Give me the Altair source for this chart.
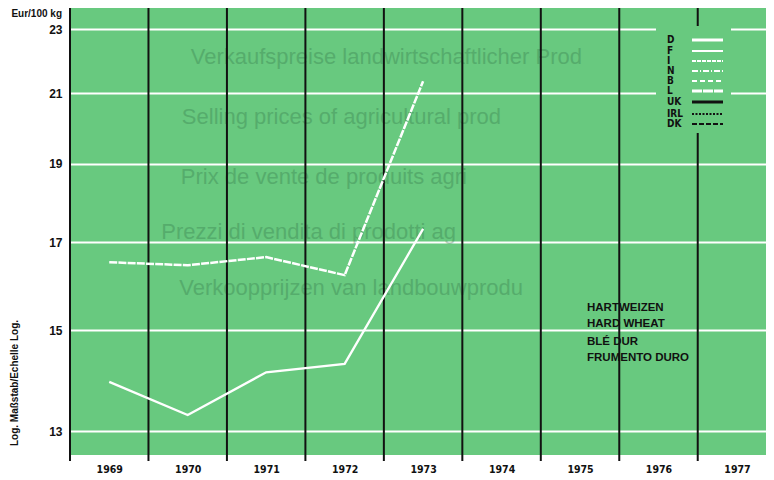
import altair as alt
import pandas as pd

# ---- data ----
years = [1969, 1970, 1971, 1972, 1973]
italy = [16.52, 16.45, 16.64, 16.22, 21.36]      # upper, finely dashed white line
france = [13.94, 13.30, 14.13, 14.30, 17.32]     # lower, solid white line
year_ticks = [1969, 1970, 1971, 1972, 1973, 1974, 1975, 1976, 1977]
boundaries = [1968.5, 1969.5, 1970.5, 1971.5, 1972.5, 1973.5, 1974.5, 1975.5, 1976.5]
y_ticks = [13, 15, 17, 19, 21, 23]
legend_labels = ["D", "F", "I", "N", "B", "L", "UK", "IRL", "DK"]
product_labels = ["HARTWEIZEN", "HARD WHEAT", "BLÉ DUR", "FRUMENTO DURO"]
ghost_lines = [
    "Verkaufspreise landwirtschaftlicher Prod",
    "Selling prices of agricultural prod",
    "Prix de vente de produits agri",
    "Prezzi di vendita di prodotti ag",
    "Verkoopprijzen van landbouwprodu",
]

GREEN = "#68c97f"
BOLD_FONT = "'Liberation Sans Narrow', 'DejaVu Sans Condensed', 'Liberation Sans', Arial"
W, H = 696, 447

xscale = alt.Scale(domain=[1968.5, 1977.37], nice=False, zero=False)
yscale = alt.Scale(type="log", domain=[12.565, 23.70], nice=False)

X = alt.X("year:Q", scale=xscale,
          axis=alt.Axis(values=year_ticks, format="d", title=None, grid=False, ticks=False,
                        domain=False, labelFont=BOLD_FONT, labelFontWeight="bold",
                        labelFontSize=10.5, labelColor="#111", labelPadding=9))
Y = alt.Y("value:Q", scale=yscale,
          axis=alt.Axis(values=y_ticks, title=None, grid=True, gridColor="white",
                        gridWidth=2, gridOpacity=1, ticks=False, domain=False,
                        labelFont="Liberation Sans", labelFontWeight="bold",
                        labelFontSize=12, labelColor="#111", labelPadding=8))

df = pd.DataFrame({
    "year": years * 2,
    "value": italy + france,
    "series": ["I"] * 5 + ["F"] * 5,
})

def txt(t, x, y, **kw):
    return alt.Chart(pd.DataFrame({"t": [t]})).mark_text(**kw).encode(
        x=alt.value(x), y=alt.value(y), text="t:N")

# ghost (show-through) text
ghost_pos = [(512, 49), (431, 109), (397, 169), (386, 224), (453, 280)]
ghost = [
    txt(t, gx, gy, align="right", baseline="middle", font="Liberation Sans", fontSize=22,
        color="#2c6a42", opacity=0.3)
    for t, (gx, gy) in zip(ghost_lines, ghost_pos)
]

vlines = alt.Chart(pd.DataFrame({"year": boundaries, "value": [15] * len(boundaries)})).mark_rule(
    color="#111", strokeWidth=2).encode(
    x=X, y=alt.value(0), y2=alt.value(H + 6),
)

base = alt.Chart(pd.DataFrame({"year": [1969], "value": [15]})).mark_point(opacity=0).encode(x=X, y=Y)

# plain patch behind legend (gridlines/lines interrupted there)
cover = alt.Chart(pd.DataFrame({"a": [0]})).mark_rect(color=GREEN).encode(
    x=alt.value(586), x2=alt.value(661), y=alt.value(18), y2=alt.value(125),
)

line_i = alt.Chart(df[df.series == "I"]).mark_line(
    color="white", strokeWidth=2.5, strokeDash=[8, 1.2]
).encode(x=X, y=Y)
line_f = alt.Chart(df[df.series == "F"]).mark_line(
    color="white", strokeWidth=2.3
).encode(x=X, y=Y)

# legend
leg_y = [32, 43, 53, 63, 73, 83, 94, 106, 116]
leg_text = [
    txt(t, 597, yy, align="left", baseline="middle", font=BOLD_FONT, fontWeight="bold",
        fontSize=10, color="#111")
    for t, yy in zip(legend_labels, leg_y)
]

styles = [
    ("white", 3, None),
    ("white", 2, None),
    ("white", 2, [4, 1]),
    ("white", 2, [6, 2, 1, 2]),
    ("white", 2, [5, 3]),
    ("white", 3, [10, 1]),
    ("#111", 3, None),
    ("#111", 2, [2, 1.5]),
    ("#111", 2, [5, 2]),
]
leg_lines = []
for (col, sw, dash), yy in zip(styles, leg_y):
    kw = dict(color=col, strokeWidth=sw)
    if dash:
        kw["strokeDash"] = dash
    leg_lines.append(
        alt.Chart(pd.DataFrame({"a": [0]})).mark_rule(**kw).encode(
            x=alt.value(622), x2=alt.value(653), y=alt.value(yy)
        )
    )

prod_text = [
    txt(t, 517, yy, align="left", baseline="middle", font="Liberation Sans", fontWeight="bold",
        fontSize=11.5, color="#111")
    for t, yy in zip(product_labels, [300, 316, 334, 350])
]

unit = txt("Eur/100 kg", -8, 6, align="right", baseline="middle", font="Liberation Sans",
           fontWeight="bold", fontSize=10, color="#111")
logtxt = txt("Log. Maßstab/Echelle Log.", -55, 375, align="center", baseline="middle", angle=270,
             font="Liberation Sans", fontWeight="bold", fontSize=10, color="#111")

chart = alt.layer(
    base, *ghost, vlines, cover, line_i, line_f, *leg_text, *leg_lines, *prod_text, unit, logtxt
).properties(
    width=W, height=H,
    padding={"left": 62, "top": 0, "right": 0, "bottom": 25},
    autosize=alt.AutoSizeParams(type="none"),
).configure_view(
    fill=GREEN, stroke=None
)

chart.save("out.html", embed_options={"renderer": "svg", "actions": False})
